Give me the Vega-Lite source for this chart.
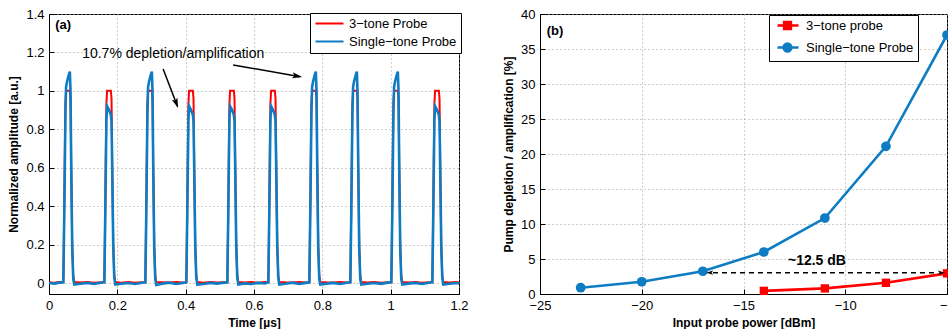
{
"$schema": "https://vega.github.io/schema/vega-lite/v6.json",
"padding": {"left": 7, "top": 7, "right": 0, "bottom": 0},
"spacing": 33,
"config": {
  "font": "Liberation Sans",
  "view": {"stroke": "black", "strokeWidth": 1},
  "axis": {"labelFont": "Liberation Sans", "labelFontSize": 13, "labelColor": "black", "titleFont": "Liberation Sans", "titleFontSize": 12, "titleFontWeight": "bold", "titleColor": "black", "domainColor": "black", "tickColor": "black", "gridColor": "#9a9a9a", "gridDash": [1, 3], "gridOpacity": 1, "tickSize": -5, "labelPadding": 10, "labelFlush": false, "labelOverlap": false, "titlePadding": 5},
  "legend": {"labelFont": "Liberation Sans", "labelFontSize": 13, "labelColor": "black"}
},
"resolve": {"scale": {"color": "independent", "shape": "independent"}, "legend": {"color": "independent", "shape": "independent"}},
"hconcat": [
{
  "width": 410, "height": 280,
  "encoding": {
    "x": {"field": "t", "type": "quantitative", "scale": {"domain": [0, 1.2], "nice": false, "zero": false}, "axis": {"values": [0, 0.2, 0.4, 0.6, 0.8, 1, 1.2], "format": "~g", "title": "Time [µs]"}},
    "y": {"field": "v", "type": "quantitative", "scale": {"domain": [-0.057, 1.4], "nice": false, "zero": false}, "axis": {"values": [0, 0.2, 0.4, 0.6, 0.8, 1, 1.2, 1.4], "format": "~g", "title": "Normalized amplitude [a.u.]"}}
  },
  "layer": [
    {
      "data": {"values": [
{"t":0,"r":0.004,"b":0.0},{"t":0.015,"r":0.002,"b":-0.003},{"t":0.03,"r":0.005,"b":0.002},
{"t":0.042,"r":0.004,"b":0.004},{"t":0.045,"r":0.45,"b":0.40},{"t":0.048,"r":0.93,"b":0.88},{"t":0.050,"r":1.0,"b":1.02},{"t":0.053,"r":1.0,"b":1.05},{"t":0.056,"r":1.0,"b":1.07},{"t":0.059,"r":1.0,"b":1.09},{"t":0.061,"r":1.0,"b":1.10},{"t":0.063,"r":0.96,"b":1.0},{"t":0.065,"r":0.62,"b":0.62},{"t":0.068,"r":0.2,"b":0.18},{"t":0.071,"r":0.04,"b":0.02},{"t":0.074,"r":0.006,"b":-0.008},{"t":0.092,"r":0.003,"b":-0.004},{"t":0.112,"r":0.005,"b":0.001},{"t":0.132,"r":0.002,"b":-0.005},{"t":0.152,"r":0.004,"b":0.002},
{"t":0.162,"r":0.004,"b":0.004},{"t":0.165,"r":0.45,"b":0.40},{"t":0.168,"r":0.93,"b":0.85},{"t":0.170,"r":1.0,"b":0.92},{"t":0.173,"r":1.0,"b":0.91},{"t":0.176,"r":1.0,"b":0.90},{"t":0.179,"r":1.0,"b":0.885},{"t":0.181,"r":1.0,"b":0.875},{"t":0.183,"r":0.96,"b":0.84},{"t":0.185,"r":0.62,"b":0.60},{"t":0.188,"r":0.2,"b":0.2},{"t":0.191,"r":0.04,"b":0.03},{"t":0.194,"r":0.006,"b":-0.008},{"t":0.212,"r":0.002,"b":-0.004},{"t":0.232,"r":0.006,"b":0.0},{"t":0.252,"r":0.002,"b":-0.005},{"t":0.272,"r":0.004,"b":0.002},
{"t":0.282,"r":0.004,"b":0.004},{"t":0.285,"r":0.45,"b":0.40},{"t":0.288,"r":0.93,"b":0.88},{"t":0.290,"r":1.0,"b":1.02},{"t":0.293,"r":1.0,"b":1.05},{"t":0.296,"r":1.0,"b":1.07},{"t":0.299,"r":1.0,"b":1.09},{"t":0.301,"r":1.0,"b":1.10},{"t":0.303,"r":0.96,"b":1.0},{"t":0.305,"r":0.62,"b":0.62},{"t":0.308,"r":0.2,"b":0.18},{"t":0.311,"r":0.04,"b":0.02},{"t":0.314,"r":0.005,"b":-0.01},{"t":0.332,"r":0.004,"b":-0.003},{"t":0.352,"r":0.003,"b":0.002},{"t":0.372,"r":0.006,"b":-0.005},{"t":0.392,"r":0.003,"b":0.0},
{"t":0.402,"r":0.004,"b":0.004},{"t":0.405,"r":0.45,"b":0.40},{"t":0.408,"r":0.93,"b":0.85},{"t":0.410,"r":1.0,"b":0.92},{"t":0.413,"r":1.0,"b":0.91},{"t":0.416,"r":1.0,"b":0.90},{"t":0.419,"r":1.0,"b":0.885},{"t":0.421,"r":1.0,"b":0.875},{"t":0.423,"r":0.96,"b":0.84},{"t":0.425,"r":0.62,"b":0.60},{"t":0.428,"r":0.2,"b":0.2},{"t":0.431,"r":0.04,"b":0.03},{"t":0.434,"r":0.006,"b":-0.008},{"t":0.452,"r":0.002,"b":-0.005},{"t":0.472,"r":0.005,"b":0.001},{"t":0.492,"r":0.003,"b":-0.003},{"t":0.512,"r":0.004,"b":0.002},
{"t":0.522,"r":0.004,"b":0.004},{"t":0.525,"r":0.45,"b":0.40},{"t":0.528,"r":0.93,"b":0.85},{"t":0.530,"r":1.0,"b":0.92},{"t":0.533,"r":1.0,"b":0.91},{"t":0.536,"r":1.0,"b":0.90},{"t":0.539,"r":1.0,"b":0.885},{"t":0.541,"r":1.0,"b":0.875},{"t":0.543,"r":0.96,"b":0.84},{"t":0.545,"r":0.62,"b":0.60},{"t":0.548,"r":0.2,"b":0.2},{"t":0.551,"r":0.04,"b":0.03},{"t":0.554,"r":0.006,"b":-0.008},{"t":0.572,"r":0.003,"b":-0.002},{"t":0.592,"r":0.005,"b":-0.005},{"t":0.612,"r":0.002,"b":0.001},{"t":0.632,"r":0.005,"b":-0.002},
{"t":0.642,"r":0.004,"b":0.004},{"t":0.645,"r":0.45,"b":0.40},{"t":0.648,"r":0.93,"b":0.85},{"t":0.650,"r":1.0,"b":0.92},{"t":0.653,"r":1.0,"b":0.91},{"t":0.656,"r":1.0,"b":0.90},{"t":0.659,"r":1.0,"b":0.885},{"t":0.661,"r":1.0,"b":0.875},{"t":0.663,"r":0.96,"b":0.84},{"t":0.665,"r":0.62,"b":0.60},{"t":0.668,"r":0.2,"b":0.2},{"t":0.671,"r":0.04,"b":0.03},{"t":0.674,"r":0.006,"b":-0.008},{"t":0.692,"r":0.004,"b":-0.004},{"t":0.712,"r":0.003,"b":0.002},{"t":0.732,"r":0.006,"b":-0.005},{"t":0.752,"r":0.003,"b":0.001},
{"t":0.762,"r":0.004,"b":0.004},{"t":0.765,"r":0.45,"b":0.40},{"t":0.768,"r":0.93,"b":0.88},{"t":0.770,"r":1.0,"b":1.02},{"t":0.773,"r":1.0,"b":1.05},{"t":0.776,"r":1.0,"b":1.07},{"t":0.779,"r":1.0,"b":1.09},{"t":0.781,"r":1.0,"b":1.10},{"t":0.783,"r":0.96,"b":1.0},{"t":0.785,"r":0.62,"b":0.62},{"t":0.788,"r":0.2,"b":0.18},{"t":0.791,"r":0.04,"b":0.02},{"t":0.794,"r":0.006,"b":-0.008},{"t":0.812,"r":0.004,"b":-0.003},{"t":0.832,"r":0.003,"b":0.001},{"t":0.852,"r":0.006,"b":-0.005},{"t":0.872,"r":0.003,"b":0.002},
{"t":0.882,"r":0.004,"b":0.004},{"t":0.885,"r":0.45,"b":0.40},{"t":0.888,"r":0.93,"b":0.88},{"t":0.890,"r":1.0,"b":1.02},{"t":0.893,"r":1.0,"b":1.05},{"t":0.896,"r":1.0,"b":1.07},{"t":0.899,"r":1.0,"b":1.09},{"t":0.901,"r":1.0,"b":1.10},{"t":0.903,"r":0.96,"b":1.0},{"t":0.905,"r":0.62,"b":0.62},{"t":0.908,"r":0.2,"b":0.18},{"t":0.911,"r":0.04,"b":0.02},{"t":0.914,"r":0.006,"b":-0.008},{"t":0.932,"r":0.003,"b":-0.004},{"t":0.952,"r":0.005,"b":0.0},{"t":0.972,"r":0.002,"b":-0.004},{"t":0.992,"r":0.004,"b":0.002},
{"t":1.002,"r":0.004,"b":0.004},{"t":1.005,"r":0.45,"b":0.40},{"t":1.008,"r":0.93,"b":0.88},{"t":1.010,"r":1.0,"b":1.02},{"t":1.013,"r":1.0,"b":1.05},{"t":1.016,"r":1.0,"b":1.07},{"t":1.019,"r":1.0,"b":1.09},{"t":1.021,"r":1.0,"b":1.10},{"t":1.023,"r":0.96,"b":1.0},{"t":1.025,"r":0.62,"b":0.62},{"t":1.028,"r":0.2,"b":0.18},{"t":1.031,"r":0.04,"b":0.02},{"t":1.034,"r":0.006,"b":-0.008},{"t":1.052,"r":0.003,"b":-0.003},{"t":1.072,"r":0.006,"b":0.001},{"t":1.092,"r":0.002,"b":-0.005},{"t":1.112,"r":0.004,"b":0.002},
{"t":1.122,"r":0.004,"b":0.004},{"t":1.125,"r":0.45,"b":0.40},{"t":1.128,"r":0.93,"b":0.85},{"t":1.130,"r":1.0,"b":0.92},{"t":1.133,"r":1.0,"b":0.91},{"t":1.136,"r":1.0,"b":0.90},{"t":1.139,"r":1.0,"b":0.885},{"t":1.141,"r":1.0,"b":0.875},{"t":1.143,"r":0.96,"b":0.84},{"t":1.145,"r":0.62,"b":0.60},{"t":1.148,"r":0.2,"b":0.2},{"t":1.151,"r":0.04,"b":0.03},{"t":1.154,"r":0.006,"b":-0.008},{"t":1.172,"r":0.003,"b":-0.004},{"t":1.192,"r":0.005,"b":0.0},{"t":1.2,"r":0.003,"b":-0.002}
      ]},
      "transform": [{"fold": ["r", "b"], "as": ["s", "v"]}],
      "layer": [
        {"transform": [{"filter": "datum.s === 'r'"}], "mark": {"type": "line", "strokeWidth": 2, "clip": true},
         "encoding": {"color": {"field": "s", "type": "nominal", "scale": {"domain": ["r", "b"], "range": ["#ff0000", "#0e7cc3"]},
           "legend": {"title": null, "orient": "none", "legendX": 261, "legendY": -1, "symbolType": "M-1,0H4.6", "symbolSize": 100, "symbolStrokeWidth": 2, "labelExpr": "datum.value === 'r' ? '3−tone Probe' : 'Single−tone Probe'", "fillColor": "white", "strokeColor": "black", "padding": 4, "rowPadding": 4, "labelOffset": 22}}}},
        {"transform": [{"filter": "datum.s === 'b'"}], "mark": {"type": "line", "strokeWidth": 2.6, "clip": true},
         "encoding": {"color": {"field": "s", "type": "nominal", "scale": {"domain": ["r", "b"], "range": ["#ff0000", "#0e7cc3"]},
           "legend": {"title": null, "orient": "none", "legendX": 261, "legendY": -1, "symbolType": "M-1,0H4.6", "symbolSize": 100, "symbolStrokeWidth": 2, "labelExpr": "datum.value === 'r' ? '3−tone Probe' : 'Single−tone Probe'", "fillColor": "white", "strokeColor": "black", "padding": 4, "rowPadding": 4, "labelOffset": 22}}}}
      ]
    },
    {"data": {"values": [{"t": 0.018, "v": 1.343, "txt": "(a)"}]},
     "mark": {"type": "text", "align": "left", "baseline": "middle", "fontWeight": "bold", "fontSize": 13, "color": "black"},
     "encoding": {"text": {"field": "txt"}}},
    {"data": {"values": [{"t": 0.097, "v": 1.192, "txt": "10.7% depletion/amplification"}]},
     "mark": {"type": "text", "align": "left", "baseline": "middle", "fontSize": 14, "color": "black"},
     "encoding": {"text": {"field": "txt"}}},
    {"data": {"values": [{"t": 0.334, "v": 1.114, "t2": 0.376, "v2": 0.92}, {"t": 0.539, "v": 1.135, "t2": 0.735, "v2": 1.074}]},
     "mark": {"type": "rule", "strokeWidth": 1.5, "color": "black"},
     "encoding": {"x2": {"field": "t2"}, "y2": {"field": "v2"}}},
    {"data": {"values": [{"t": 0.378, "v": 0.911}]},
     "mark": {"type": "point", "shape": "M0,0L0.5,1.7L0,1.3L-0.5,1.7Z", "angle": 159, "size": 140, "filled": true, "color": "black", "opacity": 1}},
    {"data": {"values": [{"t": 0.741, "v": 1.072}]},
     "mark": {"type": "point", "shape": "M0,0L0.5,1.7L0,1.3L-0.5,1.7Z", "angle": 100, "size": 140, "filled": true, "color": "black", "opacity": 1}}
  ]
},
{
  "width": 407, "height": 280,
  "data": {"values": [
    {"x": -23, "y": 0.9, "s": "b"}, {"x": -20, "y": 1.75, "s": "b"}, {"x": -17, "y": 3.25, "s": "b"}, {"x": -14, "y": 6.0, "s": "b"}, {"x": -11, "y": 10.85, "s": "b"}, {"x": -8, "y": 21.1, "s": "b"}, {"x": -5, "y": 37.0, "s": "b"},
    {"x": -14, "y": 0.45, "s": "r"}, {"x": -11, "y": 0.8, "s": "r"}, {"x": -8, "y": 1.6, "s": "r"}, {"x": -5, "y": 2.95, "s": "r"}
  ]},
  "encoding": {
    "x": {"field": "x", "type": "quantitative", "scale": {"domain": [-25, -5], "nice": false, "zero": false}, "axis": {"values": [-25, -20, -15, -10, -5], "title": "Input probe power [dBm]"}},
    "y": {"field": "y", "type": "quantitative", "scale": {"domain": [0, 40], "nice": false}, "axis": {"values": [0, 5, 10, 15, 20, 25, 30, 35, 40], "title": "Pump depletion / amplification [%]"}}
  },
  "layer": [
    {"mark": {"type": "line", "strokeWidth": 2.6, "clip": true},
     "encoding": {"color": {"field": "s", "type": "nominal", "scale": {"domain": ["r", "b"], "range": ["#ff0000", "#0e7cc3"]},
         "legend": {"title": null, "orient": "none", "legendX": 229, "legendY": 1, "symbolSize": 100, "symbolStrokeWidth": 2.5, "symbolOpacity": 1, "labelExpr": "datum.value === 'r' ? '3−tone probe' : 'Single−tone Probe'", "fillColor": "white", "strokeColor": "black", "padding": 4, "rowPadding": 4, "labelOffset": 20}}}},
    {"transform": [{"filter": "datum.s === 'r'"}], "mark": {"type": "point", "shape": "square", "filled": true, "size": 70, "opacity": 1, "color": "#ff0000"}},
    {"transform": [{"filter": "datum.s === 'b'"}], "mark": {"type": "point", "shape": "circle", "filled": true, "size": 95, "opacity": 1, "color": "#0e7cc3"}},
    {"mark": {"type": "point", "filled": false, "opacity": 0, "size": 10},
     "encoding": {
       "color": {"field": "s", "type": "nominal", "scale": {"domain": ["r", "b"], "range": ["#ff0000", "#0e7cc3"]},
         "legend": {"title": null, "orient": "none", "legendX": 229, "legendY": 1, "symbolSize": 100, "symbolStrokeWidth": 2.5, "symbolOpacity": 1, "labelExpr": "datum.value === 'r' ? '3−tone probe' : 'Single−tone Probe'", "fillColor": "white", "strokeColor": "black", "padding": 4, "rowPadding": 4, "labelOffset": 20}},
       "shape": {"field": "s", "type": "nominal", "scale": {"domain": ["r", "b"], "range": [
           "M-0.4,0H3.8M0.92,-0.68H2.28V0.68H0.92ZM1.34,-0.26H1.86V0.26H1.34ZM1.55,0H1.65",
           "M-0.4,0H3.8M0.82,0A0.78,0.78 0 1,0 2.38,0A0.78,0.78 0 1,0 0.82,0ZM1.3,0A0.3,0.3 0 1,0 1.9,0A0.3,0.3 0 1,0 1.3,0ZM1.55,0H1.65"]},
         "legend": {"title": null, "orient": "none", "legendX": 229, "legendY": 1, "symbolSize": 100, "symbolStrokeWidth": 2.5, "symbolOpacity": 1, "labelExpr": "datum.value === 'r' ? '3−tone probe' : 'Single−tone Probe'", "fillColor": "white", "strokeColor": "black", "padding": 4, "rowPadding": 4, "labelOffset": 20}}}},
    {"data": {"values": [{"x": -24.67, "y": 37.6, "txt": "(b)"}]},
     "mark": {"type": "text", "align": "left", "baseline": "middle", "fontWeight": "bold", "fontSize": 13, "color": "black"},
     "encoding": {"text": {"field": "txt"}}},
    {"data": {"values": [{"x": -11.39, "y": 4.73, "txt": "~12.5 dB"}]},
     "mark": {"type": "text", "align": "center", "baseline": "middle", "fontWeight": "bold", "fontSize": 14, "color": "black"},
     "encoding": {"text": {"field": "txt"}}},
    {"data": {"values": [{"x": -16.5, "y": 3.05, "x2": -5.45}]},
     "mark": {"type": "rule", "strokeWidth": 1.5, "color": "black", "strokeDash": [5, 4]},
     "encoding": {"x2": {"field": "x2"}}},
    {"data": {"values": [{"x": -16.84, "y": 3.05}]},
     "mark": {"type": "point", "shape": "M0,0L0.5,1.7L0,1.3L-0.5,1.7Z", "angle": 270, "size": 70, "filled": true, "color": "black", "opacity": 1}},
    {"data": {"values": [{"x": -5.1, "y": 3.05}]},
     "mark": {"type": "point", "shape": "M0,0L0.5,1.7L0,1.3L-0.5,1.7Z", "angle": 90, "size": 70, "filled": true, "color": "black", "opacity": 1}}
  ]
}
]
}
